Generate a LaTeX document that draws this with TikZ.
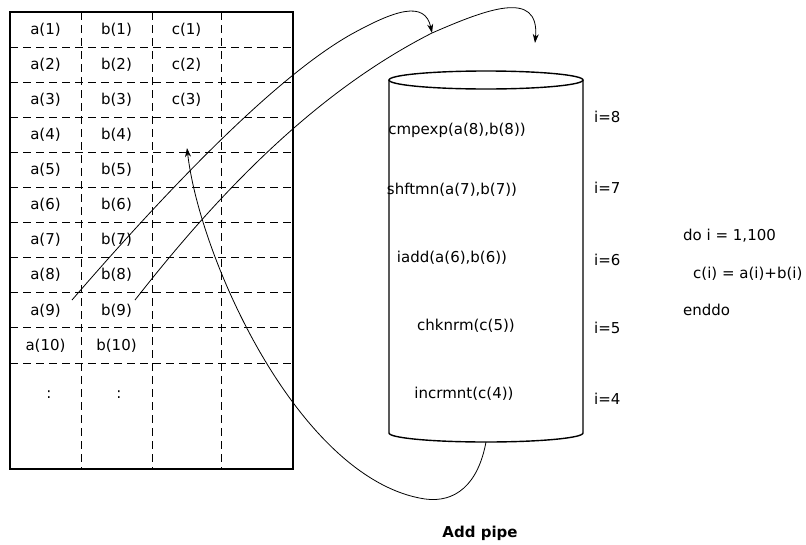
\documentclass[tikz,border=0pt]{standalone}
\usepackage{fontspec}
\setmainfont{DejaVu Sans}
\usetikzlibrary{arrows.meta}
\begin{document}
\begin{tikzpicture}[x=1pt,y=-1pt,
  every node/.style={inner sep=0pt, font=\fontsize{15}{17}\selectfont},
  grid/.style={line width=1pt, dash pattern=on 8pt off 5pt},
  frame/.style={line width=1.4pt},
  conn/.style={line width=0.8pt},
  tip/.style={-{Stealth[length=9pt,width=6pt]}},
  bold/.style={font=\fontsize{15}{17}\selectfont\bfseries}]
\useasboundingbox (0,0) rectangle (806,544);
% table grid
\foreach \k in {1,...,10} {
  \pgfmathsetmacro\yl{12+35.1*\k}
  \draw[grid] (10,\yl) -- (293,\yl);
}
\foreach \xv in {81,152,221} {
  \draw[grid] (\xv,12) -- (\xv,469);
}
\draw[frame] (10,12) rectangle (293,469);
% cells
\foreach \n in {1,...,10} {
  \pgfmathsetmacro\yc{12+35.1*(\n-0.5)}
  \node (a\n) at (45.5,\yc) {a(\n)};
  \node (b\n) at (116.5,\yc) {b(\n)};
}
\foreach \n in {1,2,3} {
  \pgfmathsetmacro\yc{12+35.1*(\n-0.5)}
  \node (c\n) at (186.5,\yc) {c(\n)};
}
\node (dotsa) at (49,395) {:};
\node (dotsb) at (119,395) {:};
% cylinder
\draw[frame] (486,80) ellipse [x radius=97, y radius=9];
\draw[frame] (389,80) -- (389,433) arc [start angle=180, end angle=360, x radius=97, y radius=-9] -- (583,80);
\coordinate (cylbot) at (486,442);
% pipe stages
\node (s8) at (457,130) {cmpexp(a(8),b(8))};
\node (s7) at (452,190) {shftmn(a(7),b(7))};
\node (s6) at (452,258) {iadd(a(6),b(6))};
\node (s5) at (466,326) {chknrm(c(5))};
\node (s4) at (464,394) {incrmnt(c(4))};
\node[anchor=west] (i8) at (594,117) {i=8};
\node[anchor=west] (i7) at (594,188) {i=7};
\node[anchor=west] (i6) at (594,260) {i=6};
\node[anchor=west] (i5) at (594,328) {i=5};
\node[anchor=west] (i4) at (594,399) {i=4};
% loop code
\node[anchor=west] (do) at (683,236) {do i = 1,100};
\node[anchor=west] (body) at (693,274) {c(i) = a(i)+b(i)};
\node[anchor=west] (enddo) at (683,310) {enddo};
% caption
\node[bold] (cap) at (480,533) {Add pipe};
% connectors
\coordinate (fromA) at (72,300);
\coordinate (fromB) at (135,300);
\coordinate (topin) at (432,33);
\coordinate (topin2) at (535,43);
\coordinate (back) at (187,148);
\coordinate (lowturn) at (425,499);
\draw[conn,tip] (fromA) .. controls (180,175) and (280,75) .. (350,35)
  .. controls (395,10) and (425,0) .. (topin);
\draw[conn,tip] (fromB) .. controls (225,185) and (320,90) .. (topin)
  .. controls (485,10) and (540,-12) .. (topin2);
\draw[conn,tip] (cylbot) .. controls (478,485) and (455,503) .. (lowturn)
  .. controls (300,480) and (200,260) .. (back);
\end{tikzpicture}
\end{document}
